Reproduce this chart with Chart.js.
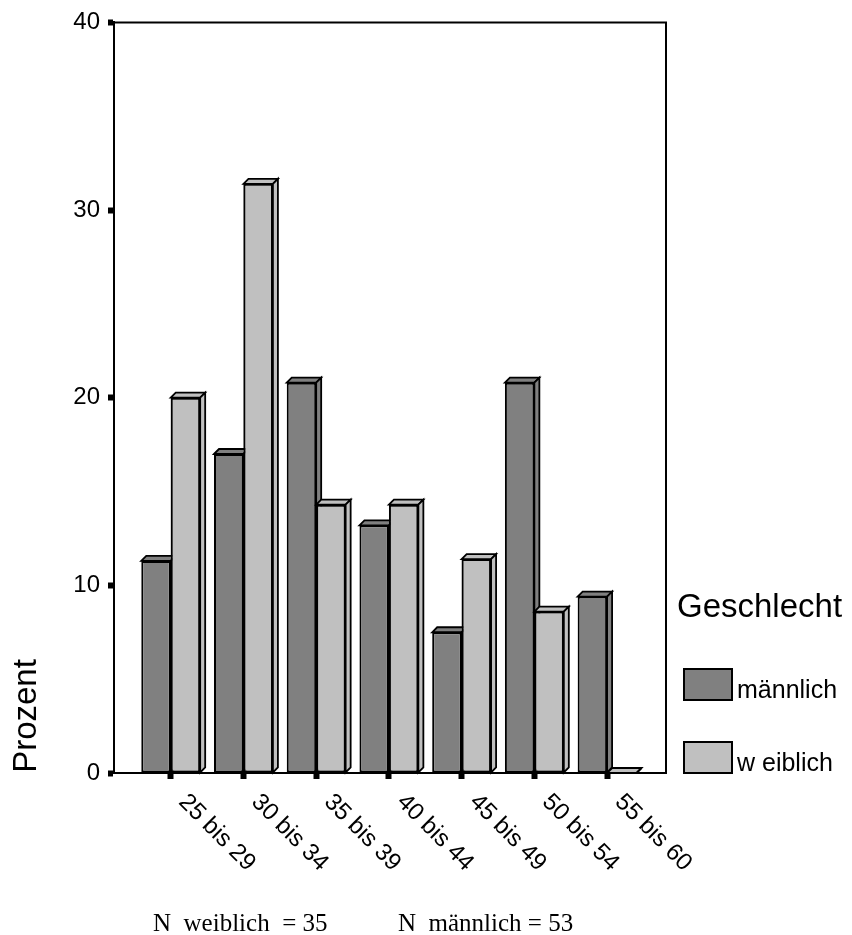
<!DOCTYPE html>
<html><head><meta charset="utf-8">
<script src="https://cdn.jsdelivr.net/npm/chart.js@4/dist/chart.umd.min.js"></script>
<style>html,body{margin:0;padding:0;background:#fff}canvas{display:block}</style>
</head><body>
<canvas id="c" width="852" height="935"></canvas>
<script>
const categories = ['25 bis 29','30 bis 34','35 bis 39','40 bis 44','45 bis 49','50 bis 54','55 bis 60'];
const maleValues = [11.3, 17.0, 20.8, 13.2, 7.5, 20.8, 9.4];
const femaleValues = [20.0, 31.4, 14.3, 14.3, 11.4, 8.6, 0];
const seriesNames = ['männlich', 'w eiblich'];
const seriesColors = ['#808080', '#c0c0c0'];
const legendTitle = 'Geschlecht';
const yTitle = 'Prozent';
const yTickValues = [0, 10, 20, 30, 40];
const footnotes = ['N  weiblich  = 35', 'N  männlich = 53'];

const SANS = "'Liberation Sans', Arial, sans-serif";
const SERIF = "'Liberation Serif', 'Times New Roman', serif";
Chart.defaults.font.family = SANS;
Chart.defaults.color = '#000';

const DEPTH = 5;

function drawFaces(ctx, bar, color) {
  const p = bar.getProps(['x', 'y', 'base', 'width'], true);
  const l = p.x - p.width / 2, r = p.x + p.width / 2, y = p.y, b = p.base;
  ctx.save();
  ctx.lineWidth = 1.8;
  ctx.strokeStyle = '#000';
  ctx.lineJoin = 'miter';
  ctx.fillStyle = color;
  ctx.beginPath();
  ctx.moveTo(l, y); ctx.lineTo(l + DEPTH, y - DEPTH); ctx.lineTo(r + DEPTH, y - DEPTH); ctx.lineTo(r, y); ctx.closePath();
  ctx.fill(); ctx.stroke();
  ctx.beginPath();
  ctx.moveTo(r, y); ctx.lineTo(r + DEPTH, y - DEPTH); ctx.lineTo(r + DEPTH, b - DEPTH); ctx.lineTo(r, b); ctx.closePath();
  ctx.fill(); ctx.stroke();
  ctx.restore();
}

const threeD = {
  id: 'threeD',
  afterDatasetsDraw(chart) {
    const ctx = chart.ctx;
    const m0 = chart.getDatasetMeta(0), m1 = chart.getDatasetMeta(1);
    const c0 = chart.data.datasets[0].backgroundColor, c1 = chart.data.datasets[1].backgroundColor;
    categories.forEach((c, i) => {
      drawFaces(ctx, m0.data[i], c0);
      m1.data[i].draw(ctx);
      drawFaces(ctx, m1.data[i], c1);
    });
  }
};

const decorations = {
  id: 'decorations',
  beforeDatasetsDraw(chart) {
    const {ctx, chartArea: a} = chart;
    ctx.save();
    ctx.strokeStyle = '#000';
    ctx.lineWidth = 2;
    ctx.beginPath();
    ctx.moveTo(a.left, a.top); ctx.lineTo(a.right, a.top); ctx.lineTo(a.right, a.bottom);
    ctx.stroke();
    ctx.restore();
  },
  afterDraw(chart) {
    const {ctx, chartArea: a} = chart;
    const xs = chart.scales.x;
    ctx.save();
    ctx.fillStyle = '#000';
    ctx.font = '24px ' + SANS;
    ctx.textAlign = 'left';
    ctx.textBaseline = 'alphabetic';
    categories.forEach((c, i) => {
      const x = xs.getPixelForValue(i);
      ctx.save();
      ctx.translate(x + 7, a.bottom + 30);
      ctx.rotate(Math.PI / 4);
      ctx.fillText(c, 0, 0);
      ctx.restore();
    });
    ctx.save();
    ctx.font = '33px ' + SANS;
    ctx.textAlign = 'center';
    ctx.translate(36, 716);
    ctx.rotate(-Math.PI / 2);
    ctx.fillText(yTitle, 0, 0);
    ctx.restore();
    ctx.font = '33px ' + SANS;
    ctx.textAlign = 'left';
    ctx.fillText(legendTitle, 677, 617);
    const boxY = [669, 742];
    ctx.font = '25px ' + SANS;
    chart.data.datasets.forEach((ds, i) => {
      ctx.fillStyle = ds.backgroundColor;
      ctx.fillRect(684, boxY[i], 48, 31);
      ctx.strokeStyle = '#000';
      ctx.lineWidth = 2;
      ctx.strokeRect(684, boxY[i], 48, 31);
      ctx.fillStyle = '#000';
      ctx.fillText(ds.label, 737, boxY[i] + 29);
    });
    ctx.font = '25px ' + SERIF;
    ctx.fillText(footnotes[0], 153, 931);
    ctx.fillText(footnotes[1], 398, 931);
    ctx.restore();
  }
};

new Chart(document.getElementById('c'), {
  type: 'bar',
  data: {
    datasets: [
      { label: seriesNames[0], data: maleValues.map((v, i) => ({x: i, y: v})), backgroundColor: seriesColors[0], borderColor: '#000', borderWidth: 2, borderSkipped: false },
      { label: seriesNames[1], data: femaleValues.map((v, i) => ({x: i, y: v})), backgroundColor: seriesColors[1], borderColor: '#000', borderWidth: 2, borderSkipped: false }
    ]
  },
  options: {
    responsive: false,
    devicePixelRatio: 1,
    animation: false,
    categoryPercentage: 0.81,
    barPercentage: 1,
    layout: { padding: { left: 0, top: 22, right: 186, bottom: 162 } },
    plugins: { legend: { display: false }, tooltip: { enabled: false } },
    scales: {
      x: {
        type: 'linear',
        offset: false,
        min: -0.78,
        max: 6.81,
        afterBuildTicks: s => { s.ticks = categories.map((c, i) => ({value: i})); },
        afterFit: s => { s.height = 0; },
        ticks: { display: false },
        grid: { display: true, offset: false, drawOnChartArea: false, drawTicks: true, tickLength: 6, tickWidth: 6, tickColor: '#000' },
        border: { display: true, color: '#000', width: 2 }
      },
      y: {
        min: 0,
        max: 40,
        afterBuildTicks: s => { s.ticks = yTickValues.map(v => ({value: v})); },
        afterFit: s => { s.width = 114; },
        ticks: { font: { size: 24 }, color: '#000', padding: 8 },
        grid: { display: true, drawOnChartArea: false, drawTicks: true, tickLength: 6, tickWidth: 6, tickColor: '#000' },
        border: { display: true, color: '#000', width: 2 }
      }
    }
  },
  plugins: [threeD, decorations]
});
</script>
</body></html>
